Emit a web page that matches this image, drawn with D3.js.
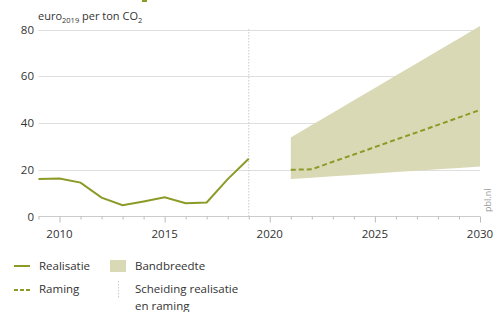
<!DOCTYPE html>
<html><head><meta charset="utf-8">
<script src="https://cdn.jsdelivr.net/npm/d3@7"></script>
<style>
body{margin:0;background:#fff;}
text{font-family:"Open Sans","Noto Sans",sans-serif;fill:#333;}
</style></head>
<body><svg id="c" width="493" height="312"></svg>
<script>
const realYears = [2009,2010,2011,2012,2013,2014,2015,2016,2017,2018,2019];
const realValues = [16.0,16.3,14.5,8.1,4.8,6.4,8.2,5.7,6.0,16.0,24.7];
const fcYears = [2021,2022,2023,2024,2025,2026,2027,2028,2029,2030];
const fcValues = [20.0,20.2,23.4,26.5,29.7,32.9,36.0,39.2,42.4,45.6];
const bandLow = [16.0,16.6,17.2,17.8,18.4,19.0,19.6,20.2,20.8,21.4];
const bandHigh = [33.8,39.1,44.4,49.7,55.0,60.3,65.6,70.9,76.2,81.5];
const yTicks = [0,20,40,60,80];
const xTickLabels = [2010,2015,2020,2025,2030];
const splitYear = 2019;

const olive = "#8c9a26", band = "#dad9b6", grid = "#dedede";
const svg = d3.select("#c");
const x = d3.scaleLinear().domain([2009,2030]).range([38.5,480]);
const y = d3.scaleLinear().domain([0,80]).range([216.5,29.5]);

// gridlines
svg.append("g").selectAll("line").data(yTicks.filter(d=>d>0)).join("line")
  .attr("x1",38.5).attr("x2",480).attr("y1",d=>Math.round(y(d))+0.5).attr("y2",d=>Math.round(y(d))+0.5)
  .attr("stroke",grid).attr("stroke-width",1);

// y labels
svg.append("g").selectAll("text").data(yTicks).join("text")
  .attr("x",34).attr("y",d=>y(d)+4).attr("text-anchor","end").attr("font-size",11.5).text(d=>d);

// x axis
const xAxis = d3.axisBottom(x).tickValues(d3.range(2009,2031)).tickSize(3).tickFormat("");
const gx = svg.append("g").attr("transform","translate(0,216.5)").call(xAxis);
gx.select(".domain").attr("stroke","#ccc").attr("d","M38.5,0H480");
gx.selectAll(".tick line").attr("stroke","#bbb").attr("y2",d=>xTickLabels.includes(d)?6:3);
svg.append("g").selectAll("text").data(xTickLabels).join("text")
  .attr("x",d=>x(d)).attr("y",238).attr("text-anchor","middle").attr("font-size",11.5).text(d=>d);

// band
const bandData = fcYears.map((yr,i)=>({yr,lo:bandLow[i],hi:bandHigh[i]}));
svg.append("path").datum(bandData)
  .attr("d",d3.area().x(d=>x(d.yr)).y0(d=>y(d.lo)).y1(d=>y(d.hi)))
  .attr("fill",band);

// split line
svg.append("line").attr("x1",x(splitYear)).attr("x2",x(splitYear)).attr("y1",29).attr("y2",216)
  .attr("stroke","#ccc").attr("stroke-dasharray","1.5,1.5");

// realisatie
svg.append("path").datum(realYears.map((yr,i)=>[yr,realValues[i]]))
  .attr("d",d3.line().x(d=>x(d[0])).y(d=>y(d[1])))
  .attr("fill","none").attr("stroke",olive).attr("stroke-width",2);
// raming
svg.append("path").datum(fcYears.map((yr,i)=>[yr,fcValues[i]]))
  .attr("d",d3.line().x(d=>x(d[0])).y(d=>y(d[1])))
  .attr("fill","none").attr("stroke",olive).attr("stroke-width",2).attr("stroke-dasharray","5,3");

// y title
const t = svg.append("text").attr("x",38).attr("y",20).attr("font-size",11);
t.append("tspan").text("euro");
t.append("tspan").attr("font-size",7.5).attr("dy",3).text("2019");
t.append("tspan").attr("dy",-3).text(" per ton CO");
t.append("tspan").attr("font-size",7.5).attr("dy",3).text("2");

// top remnant
svg.append("rect").attr("x",142).attr("y",0).attr("width",5).attr("height",2).attr("fill",olive);

// pbl.nl
svg.append("text").attr("transform","translate(491,212) rotate(-90)").attr("font-size",9).style("fill","#999").text("pbl.nl");

// legend
svg.append("line").attr("x1",14).attr("x2",30).attr("y1",266).attr("y2",266).attr("stroke",olive).attr("stroke-width",2);
svg.append("text").attr("x",39).attr("y",270).attr("font-size",11.5).text("Realisatie");
svg.append("line").attr("x1",14).attr("x2",30).attr("y1",290).attr("y2",290).attr("stroke",olive).attr("stroke-width",2).attr("stroke-dasharray","4,2");
svg.append("text").attr("x",39).attr("y",293).attr("font-size",11.5).text("Raming");
svg.append("rect").attr("x",110).attr("y",260).attr("width",16).attr("height",12).attr("fill",band);
svg.append("text").attr("x",135).attr("y",270).attr("font-size",11.5).text("Bandbreedte");
svg.append("line").attr("x1",118.5).attr("x2",118.5).attr("y1",281).attr("y2",298).attr("stroke","#ccc").attr("stroke-dasharray","1.5,1.5");
svg.append("text").attr("x",135).attr("y",293).attr("font-size",11.5).text("Scheiding realisatie");
svg.append("text").attr("x",135).attr("y",310).attr("font-size",11.5).text("en raming");
</script></body></html>
